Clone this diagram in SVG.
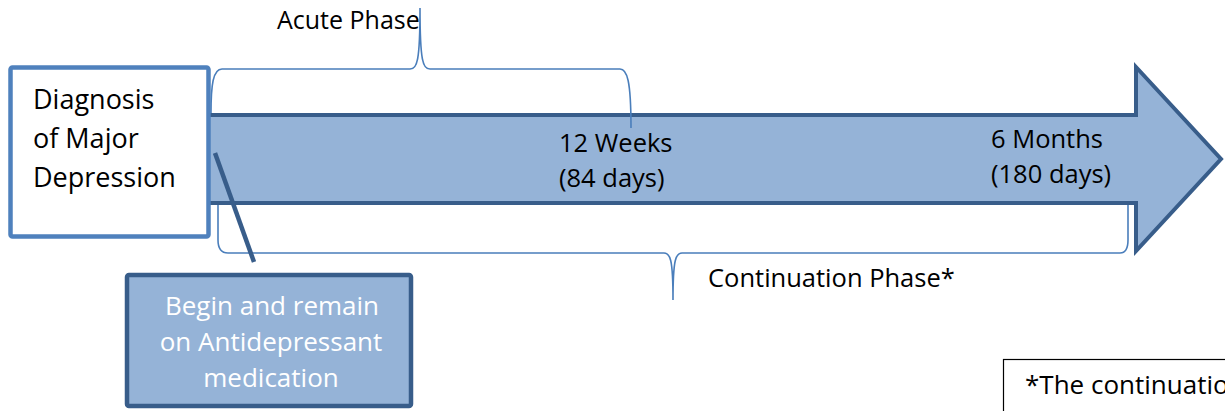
<svg xmlns="http://www.w3.org/2000/svg" width="1225" height="411" viewBox="0 0 1225 411">
<style>
.t{font-family:"Open Sans","Liberation Sans",sans-serif;fill:#000}
.w{font-family:"Open Sans","Liberation Sans",sans-serif;fill:#fff}
.brace{fill:none;stroke:#4A7EBB;stroke-width:1.6}
</style>
<rect width="1225" height="411" fill="#fff"/>
<g id="timeline-arrow">
<path d="M200,115 L1136,115 L1136,67 L1221,159 L1136,251 L1136,203 L200,203 Z" fill="#95B3D7" stroke="#385D8A" stroke-width="4" stroke-linejoin="miter"/>
<text class="t" font-size="25.5" x="559" y="152">12 Weeks</text>
<text class="t" font-size="25.5" x="559" y="187">(84 days)</text>
<text class="t" font-size="25.5" x="991" y="148">6 Months</text>
<text class="t" font-size="25.5" x="991" y="183">(180 days)</text>
</g>
<g id="diagnosis">
<rect x="10.5" y="67.5" width="198" height="169" rx="2" fill="#fff" stroke="#4F81BD" stroke-width="4.5"/>
<text class="t" font-size="27" x="33" y="109">Diagnosis</text>
<text class="t" font-size="27" x="33" y="148">of Major</text>
<text class="t" font-size="27" x="33" y="187">Depression</text>
</g>
<g id="acute-phase">
<path class="brace" d="M211,113 C211,85 213,69 222,69 L410,69 C417,69 420,62 420,8 C420,62 423,69 430,69 L620,69 C627,69 631,80 631,128"/>
<text class="t" font-size="25" x="277" y="29">Acute Phase</text>
</g>
<g id="continuation-phase">
<path class="brace" d="M218,205 L218,240 C218,248 221,253 228,253 L664,253 C670,253 673,258 673,300 C673,258 676,253 682,253 L1120,253 C1126,253 1128,248 1128,240 L1128,205"/>
<text class="t" font-size="25.5" x="708" y="287">Continuation Phase*</text>
</g>
<g id="connectors">
<line x1="215" y1="153" x2="254" y2="262" stroke="#385D8A" stroke-width="4.5"/>
</g>
<g id="medication">
<rect x="127" y="275" width="284" height="131" rx="2" fill="#95B3D7" stroke="#385D8A" stroke-width="4.5"/>
<text class="w" font-size="26" x="272" y="315" text-anchor="middle">Begin and remain</text>
<text class="w" font-size="26" x="271" y="351" text-anchor="middle">on Antidepressant</text>
<text class="w" font-size="26" x="271" y="387" text-anchor="middle">medication</text>
</g>
<g id="footnote">
<rect x="1003.5" y="359.5" width="240" height="70" fill="#fff" stroke="#000" stroke-width="1.2"/>
<text class="t" font-size="26" x="1025" y="394">*The continuatio</text>
</g>
</svg>
